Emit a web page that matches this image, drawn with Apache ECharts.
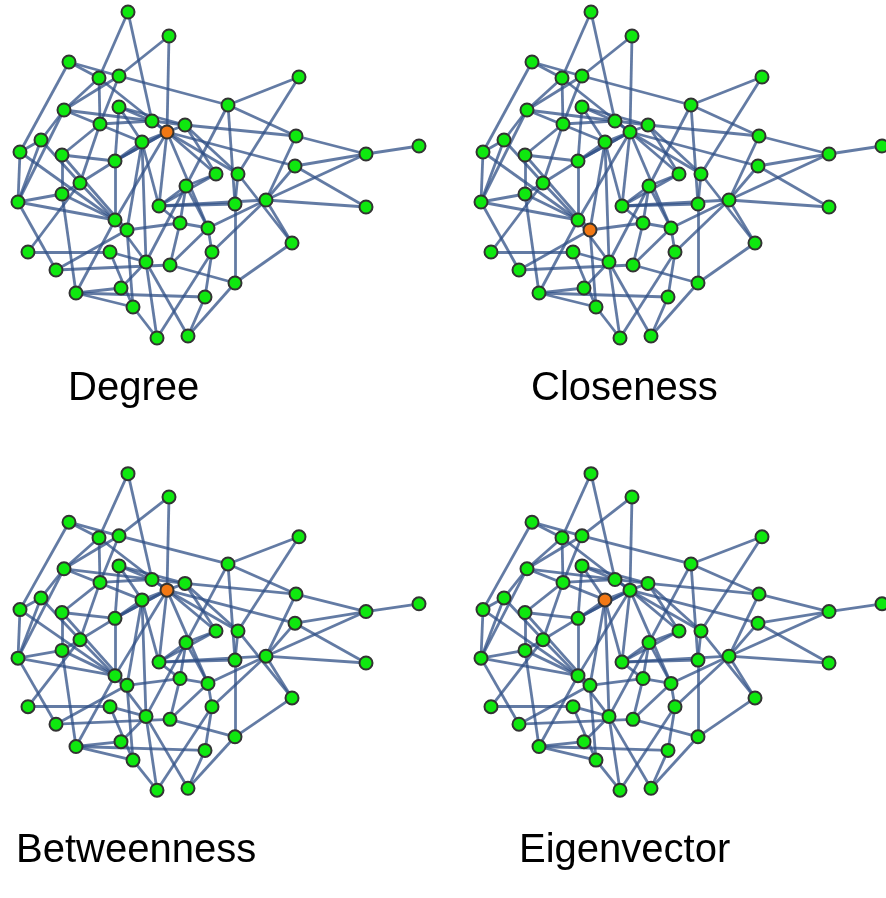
<!DOCTYPE html>
<html>
<head>
<meta charset="utf-8">
<script src="https://cdn.jsdelivr.net/npm/echarts@6/dist/echarts.min.js"></script>
<style>
  html, body { margin: 0; padding: 0; background: #fff; }
  #chart { width: 886px; height: 898px; }
</style>
</head>
<body>
<div id="chart"></div>
<script>
// Node positions (x, y) in panel coordinates, y growing downward
const nodeX = [128,169,69,99,119,299,64,119,228,152,167,185,100,41,142,296,366,419,20,62,
               115,295,216,238,80,186,62,18,266,235,159,366,115,127,180,208,28,292,110,146,
               170,212,56,235,76,121,205,133,157,188];
const nodeY = [12,36,62,78,76,77,110,107,105,121,132,125,124,140,142,136,154,146,152,155,
               161,166,174,174,183,186,194,202,200,204,206,207,220,230,223,228,252,243,252,262,
               265,252,270,283,293,288,297,307,338,336];

// Edges as pairs of node numbers (1-based)
const edgeFrom = [1,1,2,2,3,3,3,4,4,4,5,5,5,6,6,7,7,7,7,8,8,8,9,9,9,10,10,
                  11,11,11,11,11,11,11,11,12,12,12,13,13,14,14,14,15,15,15,16,16,
                  17,17,17,19,19,20,20,20,21,21,21,22,22,23,23,24,24,25,25,25,
                  26,26,26,27,27,27,28,28,29,29,29,29,29,30,30,31,33,33,34,34,
                  35,35,35,36,37,39,39,40,40,40,41,41,41,42,42,44,44,45,45,45,47,48,
                  11,10,15,26];
const edgeTo   = [4,10,5,11,4,5,19,7,11,13,9,7,13,9,24,14,15,12,28,12,15,21,16,26,30,11,13,
                  12,15,23,24,22,33,36,21,16,24,23,20,25,19,25,28,31,34,21,17,29,
                  18,22,29,28,33,27,21,34,25,33,11,29,32,26,31,30,38,27,33,37,
                  35,40,31,28,33,45,43,33,32,38,36,42,31,31,44,35,45,40,48,43,
                  36,41,34,42,39,40,48,49,50,46,43,44,36,47,49,50,38,46,47,48,50,49,
                  31,8,40,36];

// Highlighted node per panel (1-based)
const panelTitles = ['Degree', 'Closeness', 'Betweenness', 'Eigenvector'];
const panelCenter = [11, 34, 11, 15];

const panelLeft = [0, 463, 0, 463];
const panelTop  = [0, 0, 462, 462];
const titleLeft = [68, 531, 16, 519];
const titleTop  = [369, 369, 831, 831];

const PW = 423, PH = 449;

const grids = [], xAxes = [], yAxes = [], series = [], titles = [];
panelTitles.forEach((t, p) => {
  grids.push({ left: panelLeft[p], top: panelTop[p], width: PW, height: PH, containLabel: false });
  xAxes.push({ type: 'value', gridIndex: p, min: 0, max: PW, show: false });
  yAxes.push({ type: 'value', gridIndex: p, min: 0, max: PH, inverse: true, show: false });
  const data = nodeX.map((x, i) => ({
    name: String(i + 1),
    value: [x, nodeY[i]],
    itemStyle: { color: (i + 1) === panelCenter[p] ? '#f27814' : '#0fe80f' }
  }));
  const links = edgeFrom.map((a, k) => ({
    source: String(a),
    target: String(edgeTo[k]),
    lineStyle: { color: '#2f4f86', width: 2.8, opacity: 0.75 }
  }));
  series.push({
    type: 'graph',
    coordinateSystem: 'cartesian2d',
    xAxisIndex: p,
    yAxisIndex: p,
    symbol: 'circle',
    symbolSize: 13,
    data: data,
    links: links,
    z: 2,
    silent: true,
    itemStyle: { borderColor: '#333333', borderWidth: 2 },
    lineStyle: { color: '#2f4f86', width: 2.8, opacity: 0.75, curveness: 0 },
    label: { show: false },
    emphasis: { disabled: true }
  });
  titles.push({
    text: t,
    left: titleLeft[p],
    top: titleTop[p],
    padding: 0,
    textStyle: { fontFamily: 'Liberation Sans, Arial, sans-serif', fontSize: 40, fontWeight: 'normal', color: '#000' }
  });
});

const chart = echarts.init(document.getElementById('chart'), null, { renderer: 'canvas' });
chart.setOption({
  animation: false,
  backgroundColor: '#ffffff',
  title: titles,
  grid: grids,
  xAxis: xAxes,
  yAxis: yAxes,
  series: series
});
</script>
</body>
</html>
